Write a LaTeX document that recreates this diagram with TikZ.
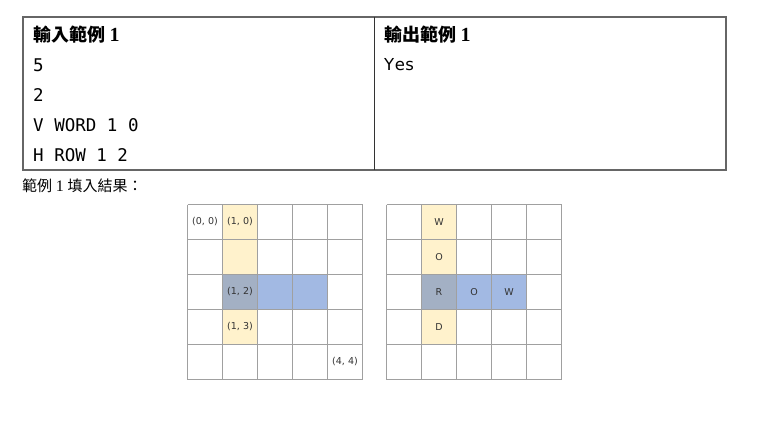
\documentclass[tikz,border=0pt]{standalone}
\usepackage{fontspec}
\setmainfont{Liberation Serif}
\newfontfamily\cjk{Noto Sans CJK TC}
\newfontfamily\mono{DejaVu Sans Mono}
\newfontfamily\sansf{DejaVu Sans}
\definecolor{ylw}{HTML}{FFF2CC}
\definecolor{blu}{HTML}{A2B9E3}
\definecolor{mix}{HTML}{A3B0C4}
\definecolor{gline}{HTML}{A0A0A0}
\definecolor{tline}{HTML}{666666}
\definecolor{gtext}{HTML}{333333}
\begin{document}
\begin{tikzpicture}[x=1pt,y=-1pt,
  hdr/.style={anchor=west,inner sep=0pt,font=\fontsize{18}{20}\selectfont},
  body/.style={anchor=west,inner sep=0pt,font=\mono\fontsize{17.5}{20}\selectfont},
  lbl/.style={inner sep=0pt,text=gtext,font=\sansf\fontsize{9.5}{11}\selectfont},
  gridln/.style={draw=gline,line width=1.3pt},
  tbl/.style={draw=tline,line width=1.4pt}]
\useasboundingbox (0,0) rectangle (762,425);
% table
\draw[tbl] (23,17) rectangle (726,170);
\draw[draw=black!80,line width=1.4pt] (374.5,17) -- (374.5,170);
\node[hdr] (h1) at (33,35) {{\cjk\bfseries 輸入範例} {\fontsize{20}{22}\selectfont\textbf{1}}};
\node[hdr] (h2) at (384,35) {{\cjk\bfseries 輸出範例} {\fontsize{20}{22}\selectfont\textbf{1}}};
\node[body] (r1) at (33,65) {5};
\node[body] (r2) at (33,95) {2};
\node[body] (r3) at (33,125) {V WORD 1 0};
\node[body] (r4) at (33,155) {H ROW 1 2};
\node[anchor=west,inner sep=0pt,font=\sansf\fontsize{16.5}{20}\selectfont] (yes) at (384,65) {Y\kern0.5pt e\kern0.5pt s};
% caption
\node[anchor=west,inner sep=0pt,font=\fontsize{15}{18}\selectfont] (cap) at (22,186) {{\cjk 範例} {\fontsize{16}{18}\selectfont 1} {\cjk 填入結果：}};
% grid 1
\begin{scope}[shift={(187.5,204.5)}]
  \fill[ylw] (35,0) rectangle (70,140);
  \fill[blu] (35,70) rectangle (140,105);
  \fill[mix] (35,70) rectangle (70,105);
  \foreach \i in {0,...,5} {
    \draw[gridln] (\i*35,0) -- (\i*35,175);
    \draw[gridln] (0,\i*35) -- (175,\i*35);
  }
  \node[lbl] (a00) at (17.5,17.5) {(0, 0)};
  \node[lbl] (a10) at (52.5,17.5) {(1, 0)};
  \node[lbl] (a12) at (52.5,87.5) {(1, 2)};
  \node[lbl] (a13) at (52.5,122.5) {(1, 3)};
  \node[lbl] (a44) at (157.5,157.5) {(4, 4)};
\end{scope}
% grid 2
\begin{scope}[shift={(386.5,204.5)}]
  \fill[ylw] (35,0) rectangle (70,140);
  \fill[blu] (35,70) rectangle (140,105);
  \fill[mix] (35,70) rectangle (70,105);
  \foreach \i in {0,...,5} {
    \draw[gridln] (\i*35,0) -- (\i*35,175);
    \draw[gridln] (0,\i*35) -- (175,\i*35);
  }
  \node[lbl] (bW) at (52.5,17.5) {W};
  \node[lbl] (bO) at (52.5,52.5) {O};
  \node[lbl] (bR) at (52.5,87.5) {R};
  \node[lbl] (bD) at (52.5,122.5) {D};
  \node[lbl] (bO2) at (87.5,87.5) {O};
  \node[lbl] (bW2) at (122.5,87.5) {W};
\end{scope}
\end{tikzpicture}
\end{document}
